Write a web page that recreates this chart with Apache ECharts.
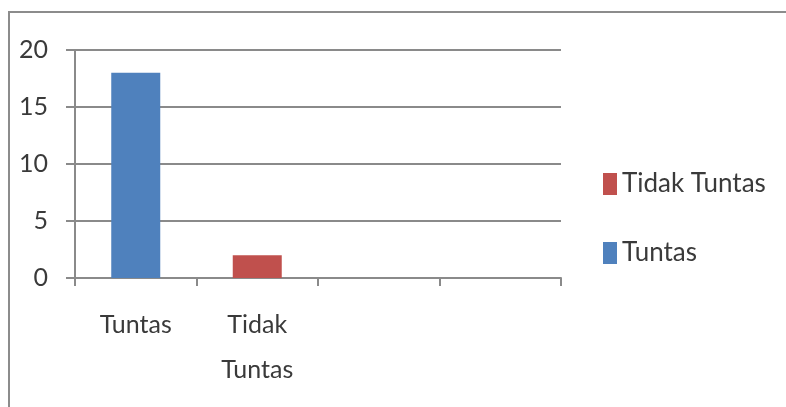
<!DOCTYPE html>
<html>
<head>
<meta charset="utf-8">
<script src="https://cdn.jsdelivr.net/npm/echarts@6/dist/echarts.min.js"></script>
<style>
html,body{margin:0;padding:0;background:#fff;}
#c{width:786px;height:407px;}
</style>
</head>
<body>
<div id="c"></div>
<script>
var categories = ['Tuntas', 'Tidak\nTuntas', '', ''];
var tuntasValues = [18, '-', '-', '-'];
var tidakTuntasValues = ['-', 2, '-', '-'];
var legendOrder = ['Tidak Tuntas', 'Tuntas'];

var FONT = 'Lato';
var TEXT = '#3a3a3a';
var LINE = '#8a8a8a';

var chart = echarts.init(document.getElementById('c'), null, {renderer: 'canvas'});
chart.setOption({
  animation: false,
  backgroundColor: '#ffffff',
  graphic: [{
    type: 'polyline',
    shape: {points: [[9, 410], [9, 12], [790, 12]]},
    style: {stroke: '#8c8c8c', lineWidth: 2, fill: null}
  }],
  grid: {left: 75, right: 225, top: 50, bottom: 129},
  legend: {
    orient: 'vertical',
    left: 603,
    top: 171,
    padding: 0,
    itemWidth: 14,
    itemHeight: 22,
    itemGap: 43,
    icon: 'rect',
    data: legendOrder,
    textStyle: {fontFamily: FONT, fontSize: 26, color: TEXT}
  },
  xAxis: {
    type: 'category',
    data: categories,
    boundaryGap: true,
    axisLine: {show: true, lineStyle: {color: LINE, width: 2}},
    axisTick: {show: true, length: 8, alignWithLabel: false, lineStyle: {color: LINE, width: 2}},
    axisLabel: {
      interval: 0, margin: 24, fontFamily: FONT, fontSize: 25, color: TEXT,
      lineHeight: 45
    },
    splitLine: {show: false}
  },
  yAxis: {
    type: 'value',
    min: 0, max: 20, interval: 5,
    axisLine: {show: true, lineStyle: {color: LINE, width: 2}},
    axisTick: {show: true, length: 9, lineStyle: {color: LINE, width: 2}},
    axisLabel: {margin: 27, fontFamily: FONT, fontSize: 25, color: TEXT},
    splitLine: {show: true, lineStyle: {color: LINE, width: 2}}
  },
  series: [
    {
      name: 'Tuntas', type: 'bar', stack: 'all', data: tuntasValues,
      barWidth: 49, itemStyle: {color: '#4f81bd'}
    },
    {
      name: 'Tidak Tuntas', type: 'bar', stack: 'all', data: tidakTuntasValues,
      barWidth: 49, itemStyle: {color: '#c0504d'}
    }
  ]
});
</script>
</body>
</html>
